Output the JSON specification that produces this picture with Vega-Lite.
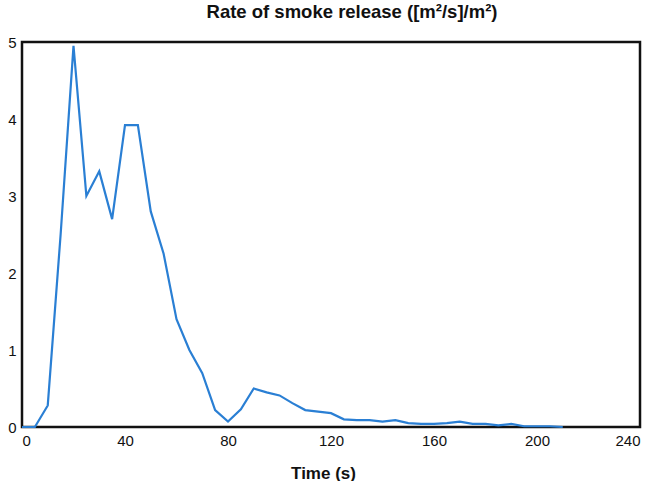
{
  "$schema": "https://vega.github.io/schema/vega-lite/v6.json",
  "autosize": "none",
  "width": 618,
  "height": 385,
  "padding": {"left": 22, "top": 42, "right": 32, "bottom": 54},
  "background": "white",
  "title": {
    "text": "Rate of smoke release ([m²/s]/m²)",
    "font": "Liberation Sans",
    "fontSize": 18.5,
    "fontWeight": "bold",
    "color": "#111",
    "anchor": "middle",
    "dx": 21,
    "offset": 14
  },
  "config": {
    "view": {"stroke": "#111", "strokeWidth": 2.5},
    "axis": {
      "labelFont": "Liberation Sans",
      "labelFontSize": 15,
      "labelColor": "#111",
      "titleFont": "Liberation Sans",
      "titleFontSize": 17,
      "titleFontWeight": "bold",
      "titleColor": "#111",
      "grid": false,
      "ticks": false,
      "domain": false,
      "labelPadding": 6
    }
  },
  "data": {
    "values": [
      {"t": 0, "v": 0}, {"t": 5, "v": 0}, {"t": 10, "v": 0.28}, {"t": 15, "v": 2.5},
      {"t": 20, "v": 4.95}, {"t": 25, "v": 3.0}, {"t": 30, "v": 3.32}, {"t": 35, "v": 2.7},
      {"t": 40, "v": 3.92}, {"t": 45, "v": 3.92}, {"t": 50, "v": 2.8}, {"t": 55, "v": 2.25},
      {"t": 60, "v": 1.4}, {"t": 65, "v": 1.0}, {"t": 70, "v": 0.7}, {"t": 75, "v": 0.22},
      {"t": 80, "v": 0.07}, {"t": 85, "v": 0.23}, {"t": 90, "v": 0.5}, {"t": 95, "v": 0.45},
      {"t": 100, "v": 0.41}, {"t": 105, "v": 0.31}, {"t": 110, "v": 0.22}, {"t": 115, "v": 0.2},
      {"t": 120, "v": 0.18}, {"t": 125, "v": 0.1}, {"t": 130, "v": 0.09}, {"t": 135, "v": 0.09},
      {"t": 140, "v": 0.07}, {"t": 145, "v": 0.09}, {"t": 150, "v": 0.05}, {"t": 155, "v": 0.04},
      {"t": 160, "v": 0.04}, {"t": 165, "v": 0.05}, {"t": 170, "v": 0.07}, {"t": 175, "v": 0.04},
      {"t": 180, "v": 0.04}, {"t": 185, "v": 0.02}, {"t": 190, "v": 0.04}, {"t": 195, "v": 0.01},
      {"t": 200, "v": 0.01}, {"t": 205, "v": 0.01}, {"t": 210, "v": 0}
    ]
  },
  "mark": {"type": "line", "color": "#2a7fd4", "strokeWidth": 2.2},
  "encoding": {
    "x": {
      "field": "t", "type": "quantitative",
      "scale": {"domain": [0, 240], "nice": false},
      "axis": {"values": [0, 40, 80, 120, 160, 200, 240], "title": "Time (s)", "titleX": 301, "titleY": 51, "titleBaseline": "alphabetic", "titleAnchor": null}
    },
    "y": {
      "field": "v", "type": "quantitative",
      "scale": {"domain": [0, 5], "nice": false},
      "axis": {"values": [0, 1, 2, 3, 4, 5], "title": null, "labelPadding": 6}
    }
  }
}
